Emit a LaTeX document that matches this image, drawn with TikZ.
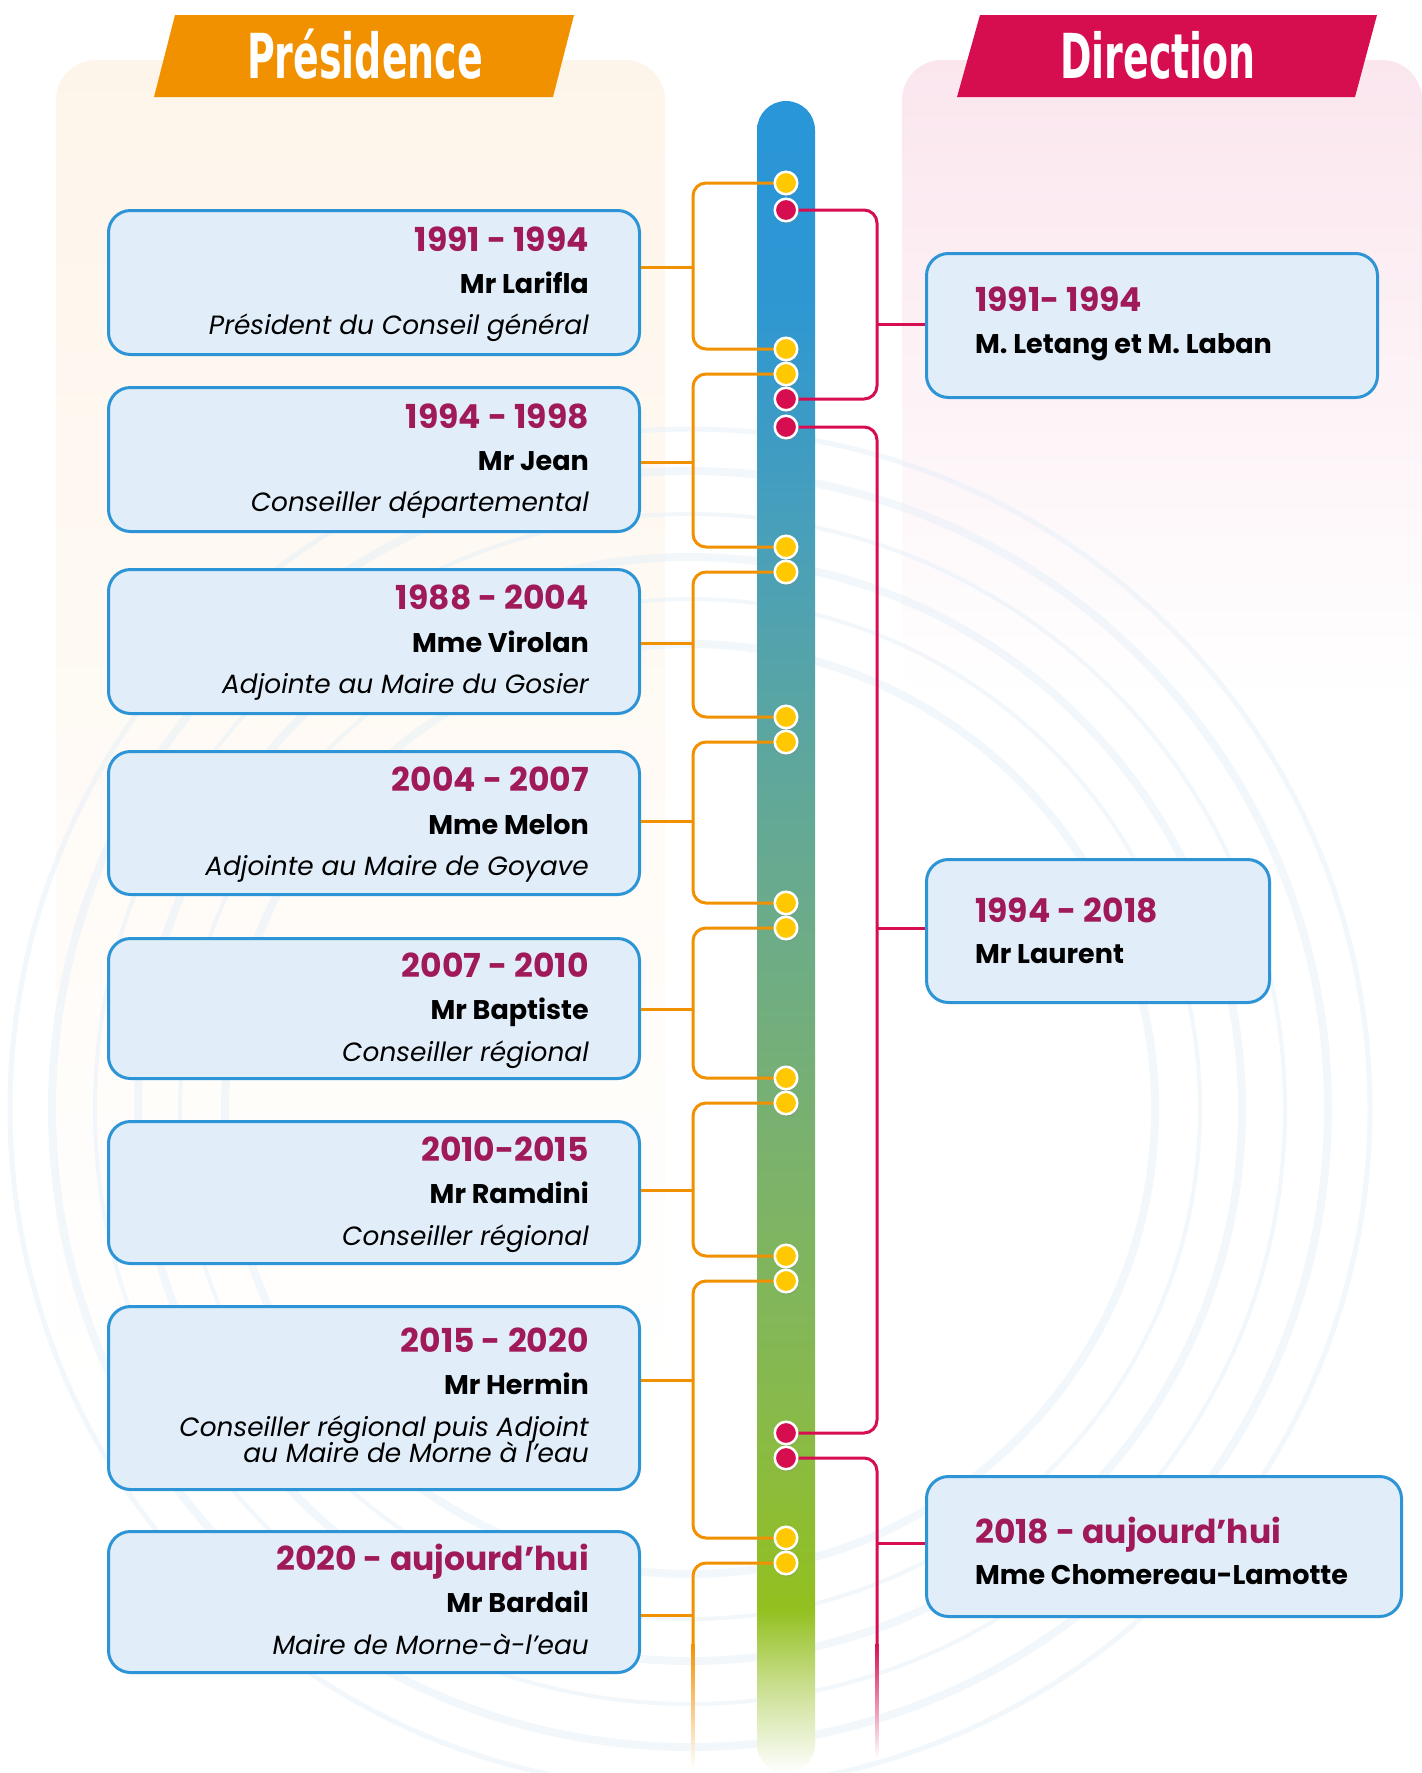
\documentclass[tikz,border=0pt]{standalone}
\usepackage{fontspec}
\setmainfont{Poppins}
\newfontfamily\banfont{DejaVu Sans Condensed}
\usetikzlibrary{shadows}
\definecolor{orangeC}{HTML}{F29100}
\definecolor{redC}{HTML}{D60E50}
\definecolor{yellowC}{HTML}{FFC800}
\definecolor{yearC}{HTML}{A01959}
\definecolor{boxfill}{HTML}{E1EDF9}
\definecolor{boxdraw}{HTML}{2D95D6}
\definecolor{creamC}{HTML}{FEF5EA}
\definecolor{pinkC}{HTML}{FBE6EE}
\definecolor{arcC}{HTML}{E3EFF9}
\definecolor{bA}{HTML}{2896D8}
\definecolor{bB}{HTML}{2E97D2}
\definecolor{bC}{HTML}{4AA0B8}
\definecolor{bD}{HTML}{62A898}
\definecolor{bE}{HTML}{78B073}
\definecolor{bF}{HTML}{87B94D}
\definecolor{bG}{HTML}{93C01F}
\definecolor{bH}{HTML}{C5DC86}
\pgfdeclareverticalshading{barshade}{100bp}{color(0bp)=(white); color(25bp)=(white); color(27.8bp)=(bH); color(29.9bp)=(bG); color(36.2bp)=(bF); color(45.1bp)=(bE); color(54.1bp)=(bD); color(61.6bp)=(bC); color(69bp)=(bB); color(75bp)=(bA); color(100bp)=(bA)}
\tikzset{
  lbox/.style={draw=boxdraw, fill=boxfill, line width=3pt, rounded corners=22pt, inner sep=0pt},
  yr/.style={font=\fontsize{33}{33}\selectfont\bfseries, text=yearC, inner sep=0pt},
  nm/.style={font=\fontsize{27}{27}\selectfont\bfseries, text=black, inner sep=0pt},
  rl/.style={font=\fontsize{26.4}{26.4}\selectfont\itshape, text=black, inner sep=0pt},
  dotbase/.style={circle, draw=white, line width=2.5pt, minimum size=22.5pt, inner sep=0pt,
    drop shadow={shadow xshift=1pt, shadow yshift=-2.5pt, opacity=0.3}},
  ydot/.style={dotbase, fill=yellowC},
  rdot/.style={dotbase, fill=redC},
  oline/.style={draw=orangeC, line width=3pt},
  rline/.style={draw=redC, line width=3pt},
  bantext/.style={font=\banfont\bfseries\fontsize{62}{62}\selectfont, text=white, inner sep=0pt, anchor=base}
}
\begin{document}
\begin{tikzpicture}[x=1pt,y=-1pt]
\useasboundingbox (0,0) rectangle (1422,1773);
\fill[white] (0,0) rectangle (1422,1773);
% background panels
\shade[top color=creamC, bottom color=white, rounded corners=40pt] (56,60) rectangle (665,1400);
\shade[top color=pinkC, bottom color=white, rounded corners=40pt] (902,60) rectangle (1422,700);
% decorative arcs
\begin{scope}[draw=arcC, opacity=0.45]
\foreach \r/\w in {465/8,510/4,552/8,595/4,638/8,680/5}{
  \draw[line width=\w pt] (690,1109) circle[radius=\r];
}
\end{scope}
% banners
\fill[orangeC] (154,97) -- (175,15) -- (574,15) -- (553,97) -- cycle;
\fill[redC] (957,97) -- (980,15) -- (1377,15) -- (1355,97) -- cycle;
\node[bantext] (tP) at (365,78) {\scalebox{0.68}[1]{Présidence}};
\node[bantext] (tD) at (1158,78) {\scalebox{0.68}[1]{Direction}};
% central bar
\shade[shading=barshade, rounded corners=29pt] (757,101) rectangle (815,1773);
% dots
\foreach \n/\yy in {y1/183,y2/349,y3/374,y4/547,y5/572,y6/717,y7/742,y8/903,y9/928,y10/1078,y11/1103,y12/1256,y13/1281,y14/1538,y15/1563}{
  \coordinate (\n) at (786,\yy);
}
\foreach \n/\yy in {r1/210,r2/399,r3/427,r4/1433,r5/1458}{
  \coordinate (\n) at (786,\yy);
}
% boxes
\node[lbox, minimum width=531pt, minimum height=144pt, anchor=north west] (b1) at (107,209) {};
\node[lbox, minimum width=531pt, minimum height=144pt, anchor=north west] (b2) at (107,386) {};
\node[lbox, minimum width=531pt, minimum height=144pt, anchor=north west] (b3) at (107,568) {};
\node[lbox, minimum width=531pt, minimum height=143pt, anchor=north west] (b4) at (107,750) {};
\node[lbox, minimum width=531pt, minimum height=140pt, anchor=north west] (b5) at (107,937) {};
\node[lbox, minimum width=531pt, minimum height=142pt, anchor=north west] (b6) at (107,1120) {};
\node[lbox, minimum width=531pt, minimum height=183pt, anchor=north west] (b7) at (107,1305) {};
\node[lbox, minimum width=531pt, minimum height=141pt, anchor=north west] (b8) at (107,1530) {};
\node[lbox, minimum width=451pt, minimum height=144pt, anchor=north west] (bA) at (925,252) {};
\node[lbox, minimum width=343pt, minimum height=143pt, anchor=north west] (bB) at (925,858) {};
\node[lbox, minimum width=475pt, minimum height=140pt, anchor=north west] (bC) at (925,1475) {};
% orange connectors
\coordinate (k1) at (693,267);
\coordinate (k2) at (693,462);
\coordinate (k3) at (693,643);
\coordinate (k4) at (693,821);
\coordinate (k5) at (693,1009);
\coordinate (k6) at (693,1190);
\coordinate (k7) at (693,1380);
\coordinate (k8) at (693,1615);
\begin{scope}[rounded corners=13pt]
\draw[oline] (y1) -- ++(-93,0) |- (y2);
\draw[oline] (y3) -- ++(-93,0) |- (y4);
\draw[oline] (y5) -- ++(-93,0) |- (y6);
\draw[oline] (y7) -- ++(-93,0) |- (y8);
\draw[oline] (y9) -- ++(-93,0) |- (y10);
\draw[oline] (y11) -- ++(-93,0) |- (y12);
\draw[oline] (y13) -- ++(-93,0) |- (y14);
\draw[oline] (y15) -- ++(-93,0) -- ++(0,80) coordinate (oe);
\end{scope}
\shade[top color=orangeC, bottom color=white] ([xshift=-1.5pt]oe) rectangle ([xshift=1.5pt,yshift=-125pt]oe);
\foreach \k/\b in {k1/b1,k2/b2,k3/b3,k4/b4,k5/b5,k6/b6,k7/b7,k8/b8}{
  \draw[oline] (\k) -- (\k -| \b.east);
}
% red connectors
\coordinate (kA) at (877,324);
\coordinate (kB) at (877,928);
\coordinate (kC) at (877,1543);
\begin{scope}[rounded corners=13pt]
\draw[rline] (r1) -- ++(91,0) |- (r2);
\draw[rline] (r3) -- ++(91,0) |- (r4);
\draw[rline] (r5) -- ++(91,0) -- ++(0,185) coordinate (re);
\end{scope}
\shade[top color=redC, bottom color=white] ([xshift=-1.5pt]re) rectangle ([xshift=1.5pt,yshift=-115pt]re);
\foreach \k/\b in {kA/bA,kB/bB,kC/bC}{
  \draw[rline] (\k) -- (\k -| \b.west);
}
% dot nodes
\foreach \n in {y1,y2,y3,y4,y5,y6,y7,y8,y9,y10,y11,y12,y13,y14,y15}{
  \node[ydot] (d\n) at (\n) {};
}
\foreach \n in {r1,r2,r3,r4,r5}{
  \node[rdot] (d\n) at (\n) {};
}
% left texts
\node[yr, anchor=base east] (t1y) at (589,251) {1991 - 1994};
\node[nm, anchor=base east] (t1n) at (589,293) {Mr Larifla};
\node[rl, anchor=base east] (t1r) at (589,334) {Président du Conseil général};
\node[yr, anchor=base east] (t2y) at (589,428) {1994 - 1998};
\node[nm, anchor=base east] (t2n) at (589,470) {Mr Jean};
\node[rl, anchor=base east] (t2r) at (589,511) {Conseiller départemental};
\node[yr, anchor=base east] (t3y) at (589,609) {1988 - 2004};
\node[nm, anchor=base east] (t3n) at (589,652) {Mme Virolan};
\node[rl, anchor=base east] (t3r) at (589,693) {Adjointe au Maire du Gosier};
\node[yr, anchor=base east] (t4y) at (589,791) {2004 - 2007};
\node[nm, anchor=base east] (t4n) at (589,834) {Mme Melon};
\node[rl, anchor=base east] (t4r) at (589,875) {Adjointe au Maire de Goyave};
\node[yr, anchor=base east] (t5y) at (589,977) {2007 - 2010};
\node[nm, anchor=base east] (t5n) at (589,1019) {Mr Baptiste};
\node[rl, anchor=base east] (t5r) at (589,1061) {Conseiller régional};
\node[yr, anchor=base east] (t6y) at (589,1161) {2010-2015};
\node[nm, anchor=base east] (t6n) at (589,1203) {Mr Ramdini};
\node[rl, anchor=base east] (t6r) at (589,1245) {Conseiller régional};
\node[yr, anchor=base east] (t7y) at (589,1352) {2015 - 2020};
\node[nm, anchor=base east] (t7n) at (589,1394) {Mr Hermin};
\node[rl, anchor=base east] (t7r) at (589,1436) {Conseiller régional puis Adjoint};
\node[rl, anchor=base east] (t7s) at (589,1462) {au Maire de Morne à l’eau};
\node[yr, anchor=base east] (t8y) at (589,1570) {2020 - aujourd’hui};
\node[nm, anchor=base east] (t8n) at (589,1612) {Mr Bardail};
\node[rl, anchor=base east] (t8r) at (589,1654) {Maire de Morne-à-l’eau};
% right texts
\node[yr, anchor=base west] (tAy) at (975,311) {1991- 1994};
\node[nm, anchor=base west] (tAn) at (975,353) {M. Letang et M. Laban};
\node[yr, anchor=base west] (tBy) at (975,922) {1994 - 2018};
\node[nm, anchor=base west] (tBn) at (975,963) {Mr Laurent};
\node[yr, anchor=base west] (tCy) at (975,1543) {2018 - aujourd’hui};
\node[nm, anchor=base west] (tCn) at (975,1584) {Mme Chomereau-Lamotte};
\end{tikzpicture}
\end{document}
